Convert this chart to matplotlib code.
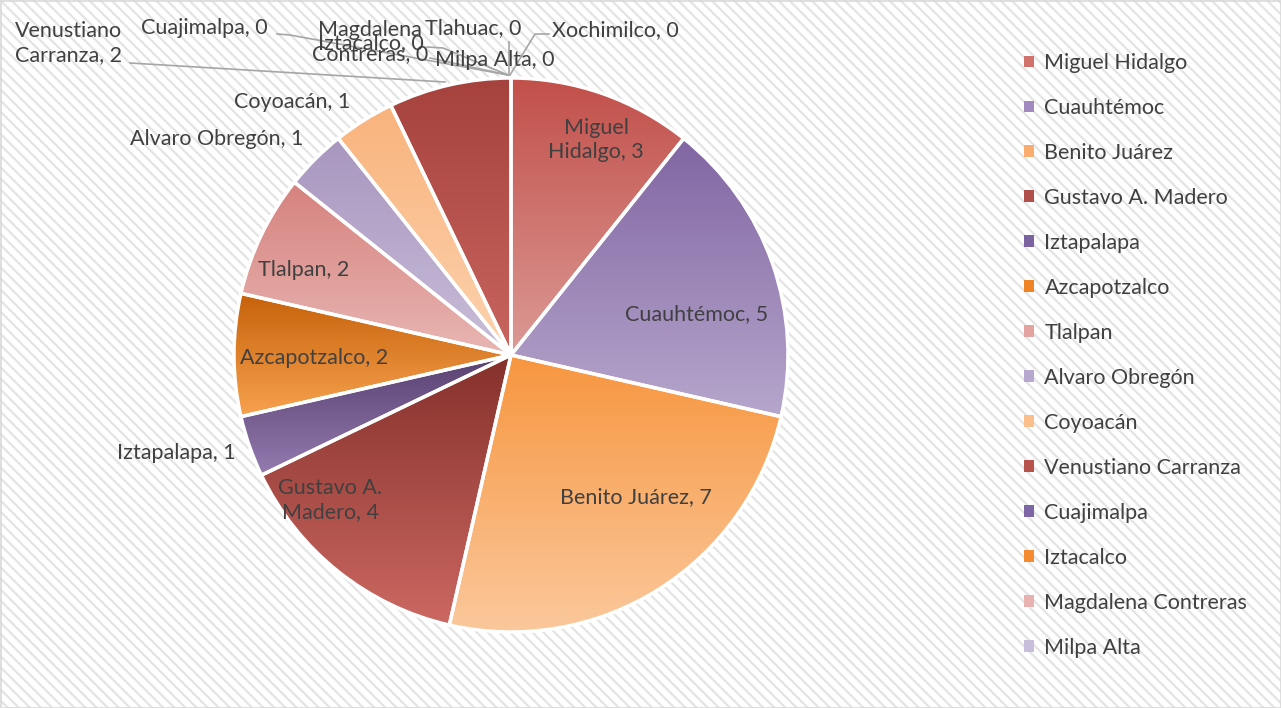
import matplotlib.pyplot as plt
import matplotlib.patches as mpatches
import numpy as np
from matplotlib.colors import to_rgb

plt.rcParams['font.family'] = ['Lato', 'DejaVu Sans']
plt.rcParams['hatch.linewidth'] = 1.6

# == Data ==
alcaldias = ["Miguel Hidalgo", "Cuauhtémoc", "Benito Juárez", "Gustavo A. Madero",
             "Iztapalapa", "Azcapotzalco", "Tlalpan", "Alvaro Obregón", "Coyoacán",
             "Venustiano Carranza", "Cuajimalpa", "Iztacalco", "Magdalena Contreras",
             "Milpa Alta", "Tlahuac", "Xochimilco"]
casos = [3, 5, 7, 4, 1, 2, 2, 1, 1, 2, 0, 0, 0, 0, 0, 0]

# gradient colours (top -> bottom) for each slice
top_colors = ["#c24f4a", "#8166a3", "#f7963f", "#85302b", "#574170", "#c6610a",
              "#d6827e", "#a896bf", "#f9b37c", "#a6423d",
              "#6e5590", "#e7780f", "#dc9c99", "#b9abd0", "#c0504d", "#8064a2"]
bottom_colors = ["#dc9a95", "#b6a6cc", "#fbc89c", "#cc6862", "#957bb0", "#f8a24f",
                 "#e8b6b3", "#c9bed9", "#fcd3af", "#c8655f",
                 "#9a83b8", "#f9a860", "#efc8c6", "#d6cde5", "#d99694", "#b3a2c7"]
legend_colors = ["#d0716b", "#a08ac0", "#fbad70", "#b0504b", "#7a63a0", "#ee8426",
                 "#e3a3a0", "#b8a8cf", "#fbbf8c", "#b7524d", "#7d66a3", "#f58b30",
                 "#e8b2b0", "#c8bedc"]
n_legend = 14  # the legend box only shows the first 14 entries

W, H = 1281, 708
cx, cy, radius = 511, H - 355, 277
FS = 15.5


def py(y):
    # pixel row (from top) -> data y
    return H - y


fig = plt.figure(figsize=(W / 100, H / 100), dpi=100)
ax = fig.add_axes([0, 0, 1, 1])

# hatched chart-area background
bg = mpatches.Rectangle((0, 0), W, H, facecolor="white", edgecolor="#e4e4e4",
                        hatch="\\\\\\", linewidth=0, zorder=0)
ax.add_patch(bg)

wedges, _ = ax.pie(casos, startangle=90, counterclock=False, center=(cx, cy),
                   radius=radius, colors=legend_colors + ["#ffffff"] * 2,
                   wedgeprops=dict(edgecolor="white", linewidth=2.5, zorder=3))

# vertical gradient inside each slice
for w, v, c0, c1 in zip(wedges, casos, top_colors, bottom_colors):
    if v == 0:
        w.set_visible(False)
        continue
    bb = w.get_path().get_extents()
    t = np.linspace(0, 1, 256)[:, None]
    grad = (1 - t) * np.array(to_rgb(c0)) + t * np.array(to_rgb(c1))
    im = ax.imshow(grad[:, None, :], extent=(bb.x0, bb.x1, bb.y0, bb.y1),
                   origin="upper", aspect="auto", interpolation="bilinear", zorder=2)
    im.set_clip_path(w)
    w.set_facecolor("none")

txt = dict(color="#404040", fontsize=FS, zorder=5)

# data labels (inside / outside)
labels = [
    ("Miguel\nHidalgo, 3", 596, 140, "center"),
    ("Cuauhtémoc, 5", 697, 314, "center"),
    ("Benito Juárez, 7", 636, 497, "center"),
    ("Gustavo A.\nMadero, 4", 330, 500, "center"),
    ("Azcapotzalco, 2", 314, 358, "center"),
    ("Tlalpan, 2", 304, 270, "center"),
    ("Iztapalapa, 1", 176, 453, "center"),
    ("Alvaro Obregón, 1", 217, 139, "center"),
    ("Coyoacán, 1", 292, 102, "center"),
    ("Venustiano\nCarranza, 2", 15, 43, "left"),
    ("Cuajimalpa, 0", 204, 28, "center"),
    ("Magdalena\nContreras, 0", 370, 42, "center"),
    ("Iztacalco, 0", 371, 43, "center"),
    ("Tlahuac, 0", 473, 28, "center"),
    ("Milpa Alta, 0", 495, 60, "center"),
    ("Xochimilco, 0", 615, 30, "center"),
]
for s, x, y, ha in labels:
    ax.text(x, py(y), s, ha=ha, va="center", multialignment=ha,
            linespacing=1.3, **txt)

# leader lines
leaders = [
    [(130, 63), (445, 82)],
    [(277, 34), (290, 35), (508, 75)],
    [(427, 47), (443, 48), (508, 75)],
    [(430, 58), (508, 75)],
    [(509, 42), (509, 75)],
    [(549, 34), (535, 34), (510, 75)],
]
for pts in leaders:
    xs = [p[0] for p in pts]
    ys = [py(p[1]) for p in pts]
    ax.plot(xs, ys, color="#a6a6a6", linewidth=1.2, zorder=4)

# legend
handles = [mpatches.Patch(facecolor=c, edgecolor="none") for c in legend_colors[:n_legend]]
leg = ax.legend(handles, alcaldias[:n_legend], loc="upper left",
                bbox_to_anchor=(1024 / W, 1 - 53 / H), bbox_transform=fig.transFigure,
                frameon=False, fontsize=FS, labelcolor="#404040",
                handlelength=0.45, handleheight=0.45, handletextpad=0.5,
                labelspacing=1.16, borderpad=0, borderaxespad=0)

# outer border
ax.add_patch(mpatches.Rectangle((0.5, 0.5), W - 1, H - 1, facecolor="none",
                                edgecolor="#d9d9d9", linewidth=1.2, zorder=6))

ax.set_xlim(0, W)
ax.set_ylim(0, H)
ax.set_aspect("auto")
ax.axis("off")

fig.savefig("out.png", dpi=100)
